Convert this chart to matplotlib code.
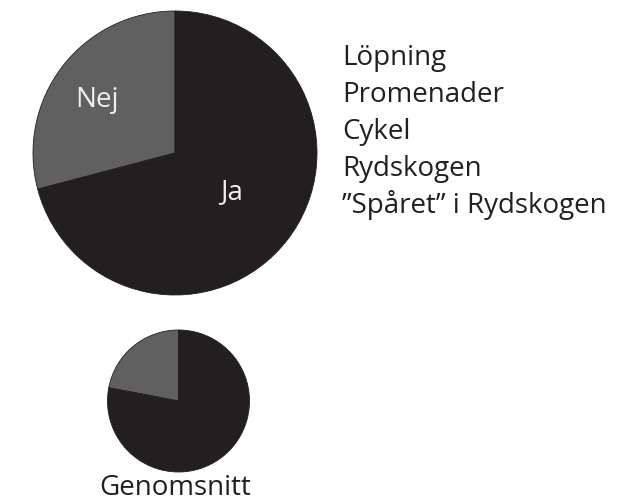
import matplotlib.pyplot as plt

# data
labels = ["Nej", "Ja"]
big_values = [29.1, 70.9]
avg_values = [22.0, 78.0]
items = ["Löpning", "Promenader", "Cykel", "Rydskogen", "”Spåret” i Rydskogen"]
avg_title = "Genomsnitt"

colors = ["#606060", "#231f20"]
W, H = 636, 501
FS = 20

plt.rcParams['font.family'] = ['Open Sans', 'DejaVu Sans']

fig = plt.figure(figsize=(W / 100, H / 100), dpi=100)


def pie_axes(cx, cy, r):
    ax = fig.add_axes([(cx - r) / W, (H - cy - r) / H, 2 * r / W, 2 * r / H])
    ax.set_aspect('equal')
    ax.axis('off')
    return ax


# stor cirkel
ax1 = pie_axes(175, 153, 142)
ax1.pie(big_values, colors=colors, startangle=90, counterclock=True,
        radius=1, center=(0, 0), frame=False,
        wedgeprops=dict(linewidth=0.6, edgecolor="#231f20"))
ax1.set_xlim(-1, 1)
ax1.set_ylim(-1, 1)
ax1.text(-0.546, 0.324, labels[0], color="#eeeeee", fontsize=FS, ha='center', va='baseline')
ax1.text(0.40, -0.324, labels[1], color="#eeeeee", fontsize=FS, ha='center', va='baseline')

# genomsnitt
ax2 = pie_axes(178.5, 401, 71)
ax2.pie(avg_values, colors=colors, startangle=90, counterclock=True,
        radius=1, center=(0, 0), frame=False,
        wedgeprops=dict(linewidth=0.6, edgecolor="#231f20"))
ax2.set_xlim(-1, 1)
ax2.set_ylim(-1, 1)
fig.text(175 / W, 1 - 495 / H, avg_title, fontsize=FS, ha='center', va='baseline', color="#231f20")

# lista
for i, s in enumerate(items):
    fig.text(342 / W, 1 - (65 + i * 37) / H, s, fontsize=FS, ha='left', va='baseline',
             color="#231f20")

fig.savefig("out.png", dpi=100)
